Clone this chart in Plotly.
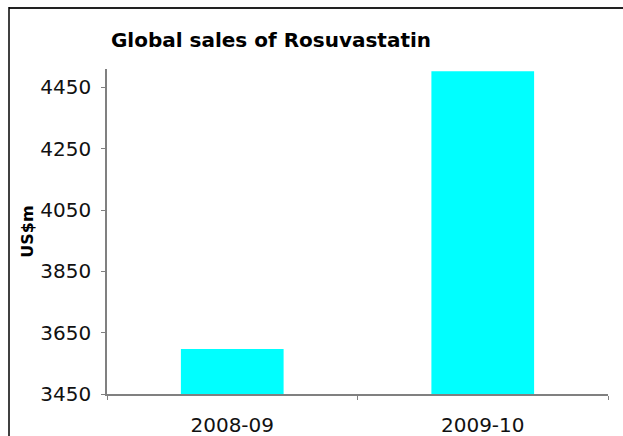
import plotly.graph_objects as go

categories = ["2008-09", "2009-10"]
sales = [3597, 4503]
y_ticks = [3450, 3650, 3850, 4050, 4250, 4450]

W, H = 623, 436
L, R, T, B = 107, 15, 69, 42
pw, ph = W - L - R, H - T - B

def px_x(x):
    return (x - L) / pw

def px_y(y):
    return (H - B - y) / ph

fig = go.Figure(go.Bar(
    x=categories, y=sales, marker_color="#00FFFF", marker_line_width=0,
    width=0.41,
))

fig.update_layout(
    width=W, height=H,
    margin=dict(l=L, r=R, t=T, b=B, autoexpand=False),
    paper_bgcolor="white", plot_bgcolor="white",
    title=dict(text="<b>Global sales of Rosuvastatin</b>", xref="container", x=271 / W,
               xanchor="center", yref="container", y=1 - 40 / H, yanchor="middle",
               font=dict(family="DejaVu Sans", size=20, color="black")),
    font=dict(family="DejaVu Sans", size=20, color="#111111"),
    showlegend=False,
    shapes=[
        dict(type="line", xref="paper", yref="paper", x0=px_x(9), x1=px_x(630),
             y0=px_y(8), y1=px_y(8), line=dict(color="#222222", width=2)),
        dict(type="line", xref="paper", yref="paper", x0=px_x(9), x1=px_x(9),
             y0=px_y(7), y1=px_y(440), line=dict(color="black", width=1.5)),
    ],
)

fig.update_xaxes(
    type="category", tickson="boundaries", ticks="outside", ticklen=4,
    tickcolor="#808080", showline=True, linecolor="#808080", linewidth=2,
    showgrid=False, tickfont=dict(size=20), ticklabelstandoff=12, automargin=False,
)
fig.update_yaxes(
    range=[3450, 4510], tickvals=y_ticks, ticks="outside", ticklen=4,
    tickcolor="#808080", showline=True, linecolor="#808080", linewidth=1.5,
    showgrid=False, zeroline=False, tickfont=dict(size=20), ticklabelstandoff=6,
    automargin=False,
    title=dict(text="<b>US$m</b>", font=dict(size=16, color="black"), standoff=3),
)

fig.write_html("out.html")
